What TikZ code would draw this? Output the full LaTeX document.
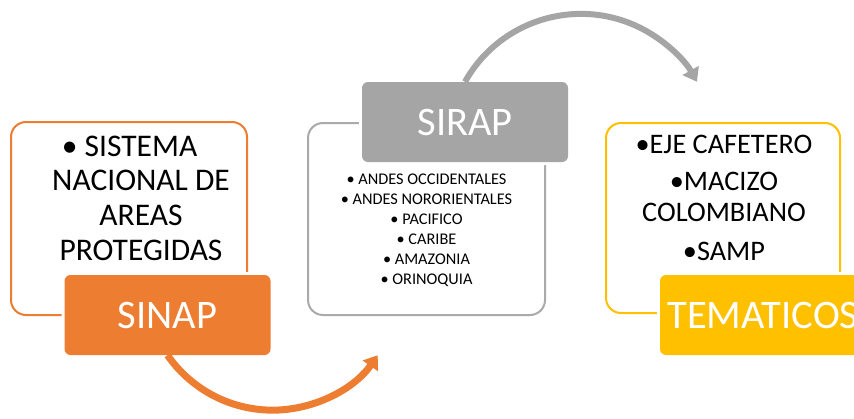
\documentclass[tikz,border=0pt]{standalone}
\usepackage{fontspec}
\setmainfont{Carlito}
\usetikzlibrary{arrows.meta}
\definecolor{corange}{HTML}{ED7D31}
\definecolor{cgray}{HTML}{A5A5A5}
\definecolor{cyellow}{HTML}{FFC000}
\tikzset{
  outbox/.style={draw=#1, line width=2pt, rounded corners=15pt, fill=white, minimum width=236pt, minimum height=192pt, inner sep=0pt},
  fillbox/.style={fill=#1, preaction={draw=white, line width=6pt, rounded corners=6pt}, rounded corners=6pt, minimum width=206pt, minimum height=80pt, inner sep=0pt, text=white, font=\fontsize{40.5}{44}\selectfont},
  bigtext/.style={align=center, inner sep=0pt, text=black},
  flowarrow/.style={line width=#1, -{Triangle[width=18pt,length=13pt]}}
}
\begin{document}
\begin{tikzpicture}[x=1pt,y=-1pt]
\clip (0,0) rectangle (854,418);
\fill[white] (0,0) rectangle (854,418);
% outline boxes
\node[outbox=corange, minimum width=236pt, minimum height=193pt] (sinapout) at (129,218.5) {};
\node[outbox=cgray!95, minimum width=237pt, minimum height=192pt] (sirapout) at (426.5,219) {};
\node[outbox=cyellow, minimum width=234pt, minimum height=190pt] (temout) at (723,218) {};
% texts
\node[bigtext, font=\fontsize{31.5}{34.7}\selectfont] (sinaptxt) at (141,198) {\llap{• }SISTEMA\\NACIONAL DE\\AREAS\\PROTEGIDAS};
\node[bigtext, font=\fontsize{16.3}{20}\selectfont] (siraptxt) at (426.5,230) {• ANDES OCCIDENTALES\\• ANDES NORORIENTALES\\• PACIFICO\\• CARIBE\\• AMAZONIA\\• ORINOQUIA};
\node[bigtext, font=\fontsize{28.3}{31}\selectfont] (temtxt) at (724,198) {•EJE CAFETERO\\[6pt]•MACIZO\\COLOMBIANO\\[8pt]•SAMP};
% filled boxes
\node[fillbox=corange] (sinap) at (167.5,315) {SINAP};
\node[fillbox=cgray] (sirap) at (465,122) {SIRAP};
\node[fillbox=cyellow] (tem) at (763,315) {TEMATICOS};
% arrows
\draw[corange, flowarrow=7pt] (sinap.south) arc[start angle=145.2, end angle=34.8, radius=128];
\draw[cgray, flowarrow=6pt] (sirap.north) arc[start angle=-150.7, end angle=-29.3, radius=133];
\end{tikzpicture}
\end{document}
